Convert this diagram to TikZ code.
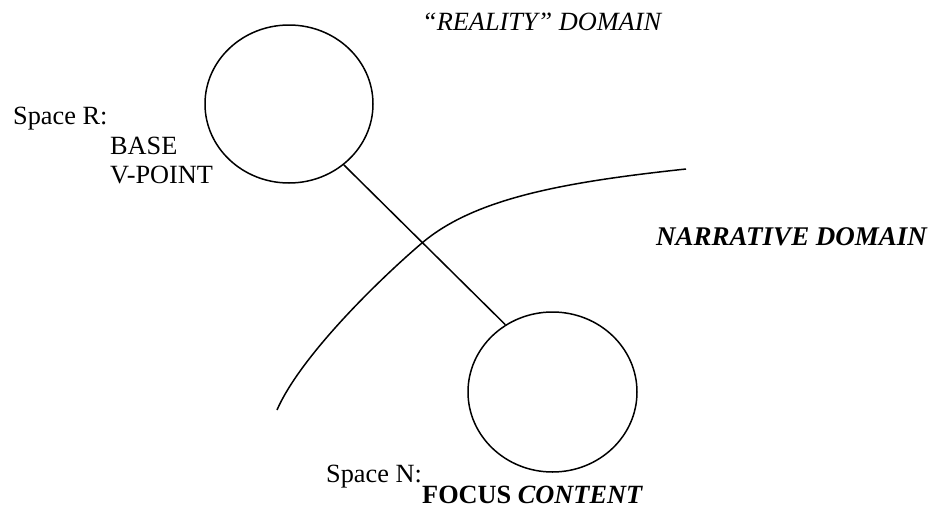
\documentclass[tikz,border=0pt]{standalone}
\usepackage{fontspec}
\setmainfont{Liberation Serif}
\usetikzlibrary{shapes.geometric}
\begin{document}
\begin{tikzpicture}[x=1pt,y=-1pt,
  space/.style={draw, line width=1.5pt, ellipse, inner sep=0pt, minimum width=168pt, minimum height=158pt},
  link/.style={line width=1.5pt},
  lbl/.style={inner sep=0pt, anchor=base west, font=\fontsize{26.3}{30}\selectfont}]
\useasboundingbox (0,0) rectangle (930,517);
\node[space] (R) at (289,104) {};
\node[space, minimum width=169pt, minimum height=160pt] (N) at (552.5,392) {};
\draw[link] (R.-48) -- (N.125);
\coordinate (b1) at (277,410);
\coordinate (bm) at (422,243);
\coordinate (b2) at (686,169);
\draw[link] (b1) .. controls (301,355) and (382,277) .. (bm)
                 .. controls (475,198) and (565,182) .. (b2);
\node[lbl] (reality) at (422,30) {\itshape “REALITY” DOMAIN};
\node[lbl] (spr) at (13,124) {Space R:};
\node[lbl] (base) at (110,154) {BASE};
\node[lbl] (vp) at (110,183) {V-POINT};
\node[lbl, font=\fontsize{27}{30}\selectfont] (narr) at (656,245) {\bfseries\itshape NARRATIVE DOMAIN};
\node[lbl] (spn) at (326,482) {Space N:};
\node[lbl] (fc) at (422,503) {\bfseries FOCUS \itshape CONTENT};
\end{tikzpicture}
\end{document}
